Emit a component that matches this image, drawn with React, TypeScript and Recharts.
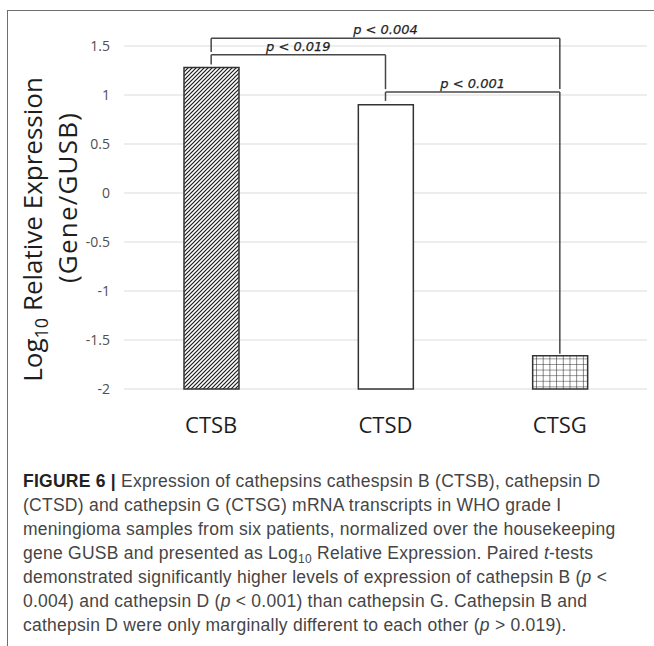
import React from "react";
import {
    BarChart,
    Bar,
    Cell,
    XAxis,
    YAxis,
    CartesianGrid,
    ReferenceLine,
} from "recharts";

// values (log10 relative expression, Gene/GUSB)
const genes = ["CTSB", "CTSD", "CTSG"];
const logExpression = [1.28, 0.9, -1.66];
const yTicks = [-2, -1.5, -1, -0.5, 0, 0.5, 1, 1.5];
const axisFloor = -2;

// significance brackets: top height, leg ends (data units)
const brackets = [
    { from: "CTSB", to: "CTSG", y: 1.58, leftEnd: 1.44, rightEnd: 1.06, label: "p < 0.004" },
    { from: "CTSB", to: "CTSD", y: 1.41, leftEnd: 1.31, rightEnd: 1.06, label: "p < 0.019" },
    { from: "CTSD", to: "CTSG", y: 1.03, leftEnd: 0.94, rightEnd: -1.64, label: "p < 0.001" },
];

const barFills = ["url(#hatchDiag)", "#ffffff", "url(#hatchGrid)"];

const FONT = "'Open Sans', sans-serif";
const LINE = "#474747";

function PLabel(props: any) {
    const vb = props.viewBox || {};
    const cx = vb.x + (vb.width || 0) / 2;
    return (
        <text
            x={cx}
            y={vb.y - 4}
            textAnchor="middle"
            fontFamily="'DejaVu Sans', sans-serif"
            fontStyle="italic"
            fontSize={13}
            fill="#1f1f1f"
            stroke="#1f1f1f"
            strokeWidth={0.25}
        >
            {props.text}
        </text>
    );
}

function GeneTick(props: any) {
    const { x, y, payload } = props;
    return (
        <text x={x} y={y + 44} textAnchor="middle" fontFamily={FONT} fontSize={22} fill="#1e1e1e">
            {payload.value}
        </text>
    );
}

function YTitle(props: any) {
    const vb = props.viewBox || {};
    const cy = vb.y + vb.height / 2;
    const y1 = cy + 12;
    const y2 = cy - 20;
    return (
        <g fontFamily={FONT} fill="#1e1e1e" textAnchor="middle">
            <text x={42} y={y1} transform={`rotate(-90, 42, ${y1})`} fontSize={26}>
                Log<tspan fontSize={18} dy={6}>10</tspan>
                <tspan dy={-6}> Relative Expression</tspan>
            </text>
            <text
                x={77}
                y={y2}
                transform={`rotate(-90, 77, ${y2})`}
                fontSize={26}
                letterSpacing={1.2}
            >
                (Gene/GUSB)
            </text>
        </g>
    );
}

function ExpressionChart() {
    const data = genes.map((g, i) => ({ name: g, range: [axisFloor, logExpression[i]] }));

    return (
        <BarChart
            width={654}
            height={460}
            data={data}
            margin={{ top: 46, right: 7, bottom: 0, left: 0 }}
            barSize={55}
        >
            <defs>
                <pattern id="hatchDiag" patternUnits="userSpaceOnUse" width={4} height={4}>
                    <rect width={4} height={4} fill="#fff" />
                    <path d="M-1,1 l2,-2 M0,4 l4,-4 M3,5 l2,-2" stroke="#1a1a1a" strokeWidth={1.2} />
                </pattern>
                <pattern id="hatchGrid" patternUnits="userSpaceOnUse" width={6.7} height={5.6}>
                    <rect width={6.7} height={5.6} fill="#fff" />
                    <path d="M0,0 L6.7,0 M0,0 L0,5.6" stroke="#2a2a2a" strokeWidth={1.1} />
                </pattern>
            </defs>
            <CartesianGrid vertical={false} stroke="#dcdcdc" strokeWidth={1.2} />
            <XAxis
                dataKey="name"
                height={71}
                axisLine={false}
                tickLine={false}
                tickSize={0}
                tickMargin={0}
                tick={<GeneTick />}
            />
            <YAxis
                width={124}
                domain={[-2, 1.5]}
                ticks={yTicks}
                interval={0}
                axisLine={false}
                tickLine={false}
                tickSize={0}
                tickMargin={14}
                tick={{ fontFamily: FONT, fontSize: 14, fill: "#4f4f4f" }}
                label={<YTitle />}
            />
            <Bar dataKey="range" isAnimationActive={false} stroke="#333" strokeWidth={1.5}>
                {data.map((d, i) => (
                    <Cell key={d.name} fill={barFills[i]} />
                ))}
            </Bar>
            {brackets.map((b) => (
                <ReferenceLine
                    key={b.label}
                    segment={[
                        { x: b.from, y: b.y },
                        { x: b.to, y: b.y },
                    ]}
                    stroke={LINE}
                    strokeWidth={1.5}
                    ifOverflow="visible"
                    label={<PLabel text={b.label} />}
                />
            ))}
            {brackets.map((b) => (
                <ReferenceLine
                    key={b.label + "-l"}
                    segment={[
                        { x: b.from, y: b.y },
                        { x: b.from, y: b.leftEnd },
                    ]}
                    stroke={LINE}
                    strokeWidth={1.5}
                    ifOverflow="visible"
                />
            ))}
            {brackets.map((b) => (
                <ReferenceLine
                    key={b.label + "-r"}
                    segment={[
                        { x: b.to, y: b.y },
                        { x: b.to, y: b.rightEnd },
                    ]}
                    stroke={LINE}
                    strokeWidth={1.5}
                    ifOverflow="visible"
                />
            ))}
        </BarChart>
    );
}

const subStyle: React.CSSProperties = { fontSize: 12, verticalAlign: "baseline", position: "relative", top: 4, lineHeight: 0 };

const captionLines: React.ReactNode[] = [
    <>
        <b style={{ fontWeight: 700, color: "#222" }}>FIGURE 6 |</b> Expression of cathepsins cathespsin B (CTSB), cathepsin D
    </>,
    <>(CTSD) and cathepsin G (CTSG) mRNA transcripts in WHO grade I</>,
    <>meningioma samples from six patients, normalized over the housekeeping</>,
    <>
        gene GUSB and presented as Log<span style={subStyle}>10</span> Relative Expression. Paired <i>t</i>-tests
    </>,
    <>
        demonstrated significantly higher levels of expression of cathepsin B (<i>p</i> &lt;
    </>,
    <>
        0.004) and cathepsin D (<i>p</i> &lt; 0.001) than cathepsin G. Cathepsin B and
    </>,
    <>
        cathepsin D were only marginally different to each other (<i>p</i> &gt; 0.019).
    </>,
];

export default function App() {
    return (
        <div
            style={{
                position: "absolute",
                left: 0,
                top: 0,
                width: 654,
                height: 646,
                overflow: "hidden",
                background: "#fff",
            }}
        >
            <div
                style={{
                    position: "absolute",
                    left: 7,
                    top: 10,
                    width: 700,
                    height: 700,
                    borderTop: "1.5px solid #6e6e6e",
                    borderLeft: "1.5px solid #6e6e6e",
                }}
            />
            <div style={{ position: "absolute", left: 0, top: 0 }}>
                <ExpressionChart />
            </div>
            <div
                style={{
                    position: "absolute",
                    left: 23,
                    top: 469,
                    fontFamily: "'Liberation Sans', Arial, sans-serif",
                    fontSize: 17.5,
                    letterSpacing: 0.25,
                    lineHeight: "24px",
                    color: "#454545",
                    whiteSpace: "nowrap",
                }}
            >
                {captionLines.map((l, i) => (
                    <div key={i}>{l}</div>
                ))}
            </div>
        </div>
    );
}
